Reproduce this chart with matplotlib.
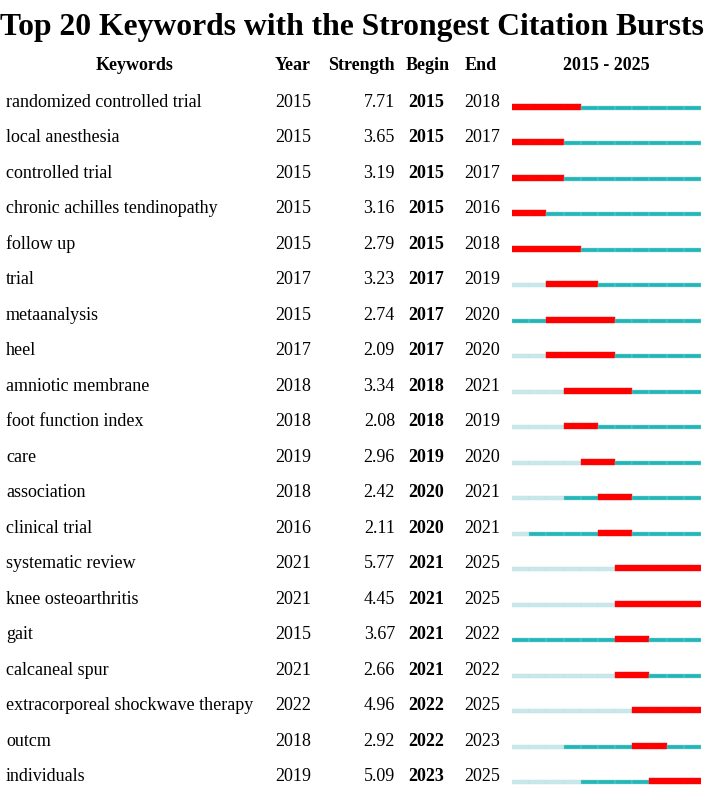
import matplotlib
matplotlib.use("Agg")
import matplotlib.pyplot as plt

# burst table data
keywords = ["randomized controlled trial", "local anesthesia", "controlled trial",
            "chronic achilles tendinopathy", "follow up", "trial", "metaanalysis", "heel",
            "amniotic membrane", "foot function index", "care", "association",
            "clinical trial", "systematic review", "knee osteoarthritis", "gait",
            "calcaneal spur", "extracorporeal shockwave therapy", "outcm", "individuals"]
years = [2015, 2015, 2015, 2015, 2015, 2017, 2015, 2017, 2018, 2018,
         2019, 2018, 2016, 2021, 2021, 2015, 2021, 2022, 2018, 2019]
strength = [7.71, 3.65, 3.19, 3.16, 2.79, 3.23, 2.74, 2.09, 3.34, 2.08,
            2.96, 2.42, 2.11, 5.77, 4.45, 3.67, 2.66, 4.96, 2.92, 5.09]
begin = [2015, 2015, 2015, 2015, 2015, 2017, 2017, 2017, 2018, 2018,
         2019, 2020, 2020, 2021, 2021, 2021, 2021, 2022, 2022, 2023]
end = [2018, 2017, 2017, 2016, 2018, 2019, 2020, 2020, 2021, 2019,
       2020, 2021, 2021, 2025, 2025, 2022, 2022, 2025, 2023, 2025]
start_year, end_year = 2015, 2025

W, H = 709, 790
fig = plt.figure(figsize=(W / 100, H / 100), dpi=100)
plt.rcParams['font.family'] = ['Liberation Serif', 'DejaVu Serif']

# text layer in pixel coords
ax = fig.add_axes([0, 0, 1, 1])
ax.set_xlim(0, W)
ax.set_ylim(H, 0)
ax.axis('off')

row0, dy = 106.7, 35.5
fs = 13

fig.text(352 / W, 1 - 35 / H, "Top 20 Keywords with the Strongest Citation Bursts",
         ha='center', va='baseline', fontsize=22.8, fontweight='bold')

hy = 69.5
ax.text(135, hy, "Keywords", ha='center', va='baseline', fontsize=fs, fontweight='bold')
ax.text(293, hy, "Year", ha='center', va='baseline', fontsize=fs, fontweight='bold')
ax.text(361, hy, "Strength", ha='center', va='baseline', fontsize=fs, fontweight='bold')
ax.text(428, hy, "Begin", ha='center', va='baseline', fontsize=fs, fontweight='bold')
ax.text(481, hy, "End", ha='center', va='baseline', fontsize=fs, fontweight='bold')
ax.text(606, hy, "%d - %d" % (start_year, end_year), ha='center', va='baseline',
        fontsize=fs, fontweight='bold')

for i, kw in enumerate(keywords):
    y = row0 + i * dy
    ax.text(6, y, kw, ha='left', va='baseline', fontsize=fs)
    ax.text(275, y, str(years[i]), ha='left', va='baseline', fontsize=fs)
    ax.text(395, y, "%.2f" % strength[i], ha='right', va='baseline', fontsize=fs)
    ax.text(408, y, str(begin[i]), ha='left', va='baseline', fontsize=fs, fontweight='bold')
    ax.text(464, y, str(end[i]), ha='left', va='baseline', fontsize=fs)

# timeline layer: x in years, y in pixels
tx = fig.add_axes([512 / W, 0, 189 / W, 1])
tx.set_xlim(start_year, end_year + 1)
tx.set_ylim(H, 0)
tx.axis('off')

light, teal, red = '#c8e8ea', '#22b6b9', '#ff0000'
for i in range(len(keywords)):
    bottom = row0 + i * dy + 3
    for yr in range(start_year, end_year + 1):
        if begin[i] <= yr <= end[i]:
            tx.barh(bottom - 3, 1, left=yr, height=6, color=red,
                    edgecolor='#f01010', linewidth=0.3)
        else:
            c = light if yr < years[i] else teal
            tx.barh(bottom - 2, 1, left=yr, height=4, color=c,
                    edgecolor='#8fd3d5' if c == teal else '#bfe2e4', linewidth=0.3)

fig.savefig("out.png", dpi=100)
